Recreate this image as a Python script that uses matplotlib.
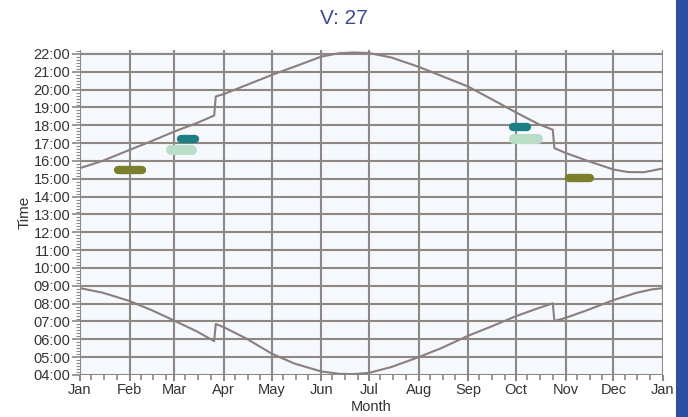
import matplotlib
matplotlib.use('Agg')
import matplotlib.pyplot as plt
import matplotlib.dates as mdates
from matplotlib.ticker import FuncFormatter, MultipleLocator
from matplotlib.patches import Rectangle
from datetime import datetime

# ---------------- data ----------------
title = "V: 27"
x_label = "Month"
y_label = "Time"

sunset_dates = ["2011-01-01", "2011-01-15", "2011-02-01", "2011-02-15", "2011-03-01",
                "2011-03-15", "2011-03-26", "2011-03-27", "2011-04-01", "2011-04-15",
                "2011-05-01", "2011-05-15", "2011-06-01", "2011-06-12", "2011-06-21",
                "2011-07-01", "2011-07-15", "2011-08-01", "2011-08-15", "2011-09-01",
                "2011-09-15", "2011-10-01", "2011-10-15", "2011-10-24", "2011-10-25",
                "2011-11-01", "2011-11-15", "2011-12-01", "2011-12-10", "2011-12-20",
                "2012-01-01"]
sunset_hours = [15.60, 16.00, 16.62, 17.12, 17.65,
                18.12, 18.55, 19.62, 19.75, 20.25,
                20.82, 21.28, 21.85, 22.04, 22.08,
                22.05, 21.80, 21.28, 20.78, 20.17,
                19.50, 18.72, 18.07, 17.75, 16.72,
                16.45, 16.00, 15.52, 15.38, 15.37,
                15.58]

sunrise_dates = ["2011-01-01", "2011-01-15", "2011-02-01", "2011-02-15", "2011-03-01",
                 "2011-03-15", "2011-03-26", "2011-03-27", "2011-04-01", "2011-04-15",
                 "2011-05-01", "2011-05-15", "2011-06-01", "2011-06-12", "2011-06-21",
                 "2011-07-01", "2011-07-15", "2011-08-01", "2011-08-15", "2011-09-01",
                 "2011-09-15", "2011-10-01", "2011-10-15", "2011-10-24", "2011-10-25",
                 "2011-11-01", "2011-11-15", "2011-12-01", "2011-12-15", "2011-12-25",
                 "2012-01-01"]
sunrise_hours = [8.87, 8.62, 8.15, 7.63, 7.05,
                 6.45, 5.90, 6.86, 6.68, 6.05,
                 5.20, 4.65, 4.20, 4.07, 4.05,
                 4.12, 4.45, 5.00, 5.50, 6.20,
                 6.70, 7.30, 7.75, 8.02, 7.03,
                 7.20, 7.65, 8.20, 8.60, 8.80,
                 8.87]

blob_starts = ["2011-01-25", "2011-03-05", "2011-02-27", "2011-09-29", "2011-09-30", "2011-11-03"]
blob_ends = ["2011-02-09", "2011-03-14", "2011-03-12", "2011-10-08", "2011-10-15", "2011-11-16"]
blob_hours = [15.50, 17.24, 16.62, 17.88, 17.23, 15.06]
blob_colors = ["#7b7f2b", "#1d7e84", "#b9ddc7", "#1d7e84", "#b9ddc7", "#7b7f2b"]
blob_widths = [6.0, 6.0, 7.2, 6.0, 7.2, 6.0]

month_labels = ["Jan", "Feb", "Mar", "Apr", "May", "Jun", "Jul", "Aug", "Sep", "Oct", "Nov", "Dec", "Jan"]


def to_dt(s):
    return datetime.strptime(s, "%Y-%m-%d")


# ---------------- figure ----------------
plt.rcParams['font.family'] = ['Liberation Sans', 'DejaVu Sans']
W, H = 688, 417
fig = plt.figure(figsize=(W / 100, H / 100), dpi=100)
fig.patch.set_facecolor('white')

# blue strip at right edge
fig.patches.append(Rectangle((676 / W, 0), 12 / W, 1, transform=fig.transFigure,
                             facecolor='#2a4fa3', edgecolor='none', zorder=0))

ax = fig.add_axes([80 / W, 42 / H, (663 - 80) / W, (366.6 - 42) / H])
ax.set_facecolor('#f5f8fc')

grid_c = '#8e8784'
line_c = '#8a7e7e'

ax.plot([to_dt(d) for d in sunset_dates], sunset_hours, color=line_c, lw=1.5, zorder=3)
ax.plot([to_dt(d) for d in sunrise_dates], sunrise_hours, color=line_c, lw=1.5, zorder=3)

for s, e, h, c, w in zip(blob_starts, blob_ends, blob_hours, blob_colors, blob_widths):
    ax.plot([to_dt(s), to_dt(e)], [h, h], color=c, lw=w, solid_capstyle='round', zorder=4)

ax.set_xlim(to_dt("2011-01-01"), to_dt("2012-01-01"))
ax.set_ylim(4, 22.2)

ax.xaxis.set_major_locator(mdates.MonthLocator())
ax.xaxis.set_minor_locator(mdates.DayLocator(bymonthday=[8, 16, 24]))
ax.xaxis.set_major_formatter(FuncFormatter(lambda v, p: month_labels[p] if p is not None and p < len(month_labels) else mdates.num2date(v).strftime('%b')))

ax.set_yticks(range(4, 23))
ax.yaxis.set_major_formatter(FuncFormatter(lambda v, p: "%02d:00" % int(round(v))))
ax.yaxis.set_minor_locator(MultipleLocator(1 / 6))

for sp in ax.spines.values():
    sp.set_visible(False)

ax.grid(True, which='major', color=grid_c, lw=1.5)
ax.set_axisbelow(True)

ax.tick_params(axis='both', which='both', direction='out', color=grid_c)
ax.tick_params(axis='y', which='major', length=6, width=1.2, labelsize=10.5, labelcolor='#333333', pad=1)
ax.tick_params(axis='y', which='minor', length=3, width=0.8)
ax.tick_params(axis='x', which='major', length=4, width=1.5, labelsize=10.5, labelcolor='#333333', pad=2)
ax.tick_params(axis='x', which='minor', length=3.5, width=1.2)

ax.set_xlabel(x_label, fontsize=10.5, color='#333333', labelpad=2)
ax.set_ylabel(y_label, fontsize=11, color='#333333', labelpad=1)

fig.text(344 / W, 1 - 18 / H, title, ha='center', va='center', fontsize=15, color='#3d4a9c')

fig.savefig('out.png', dpi=100)
